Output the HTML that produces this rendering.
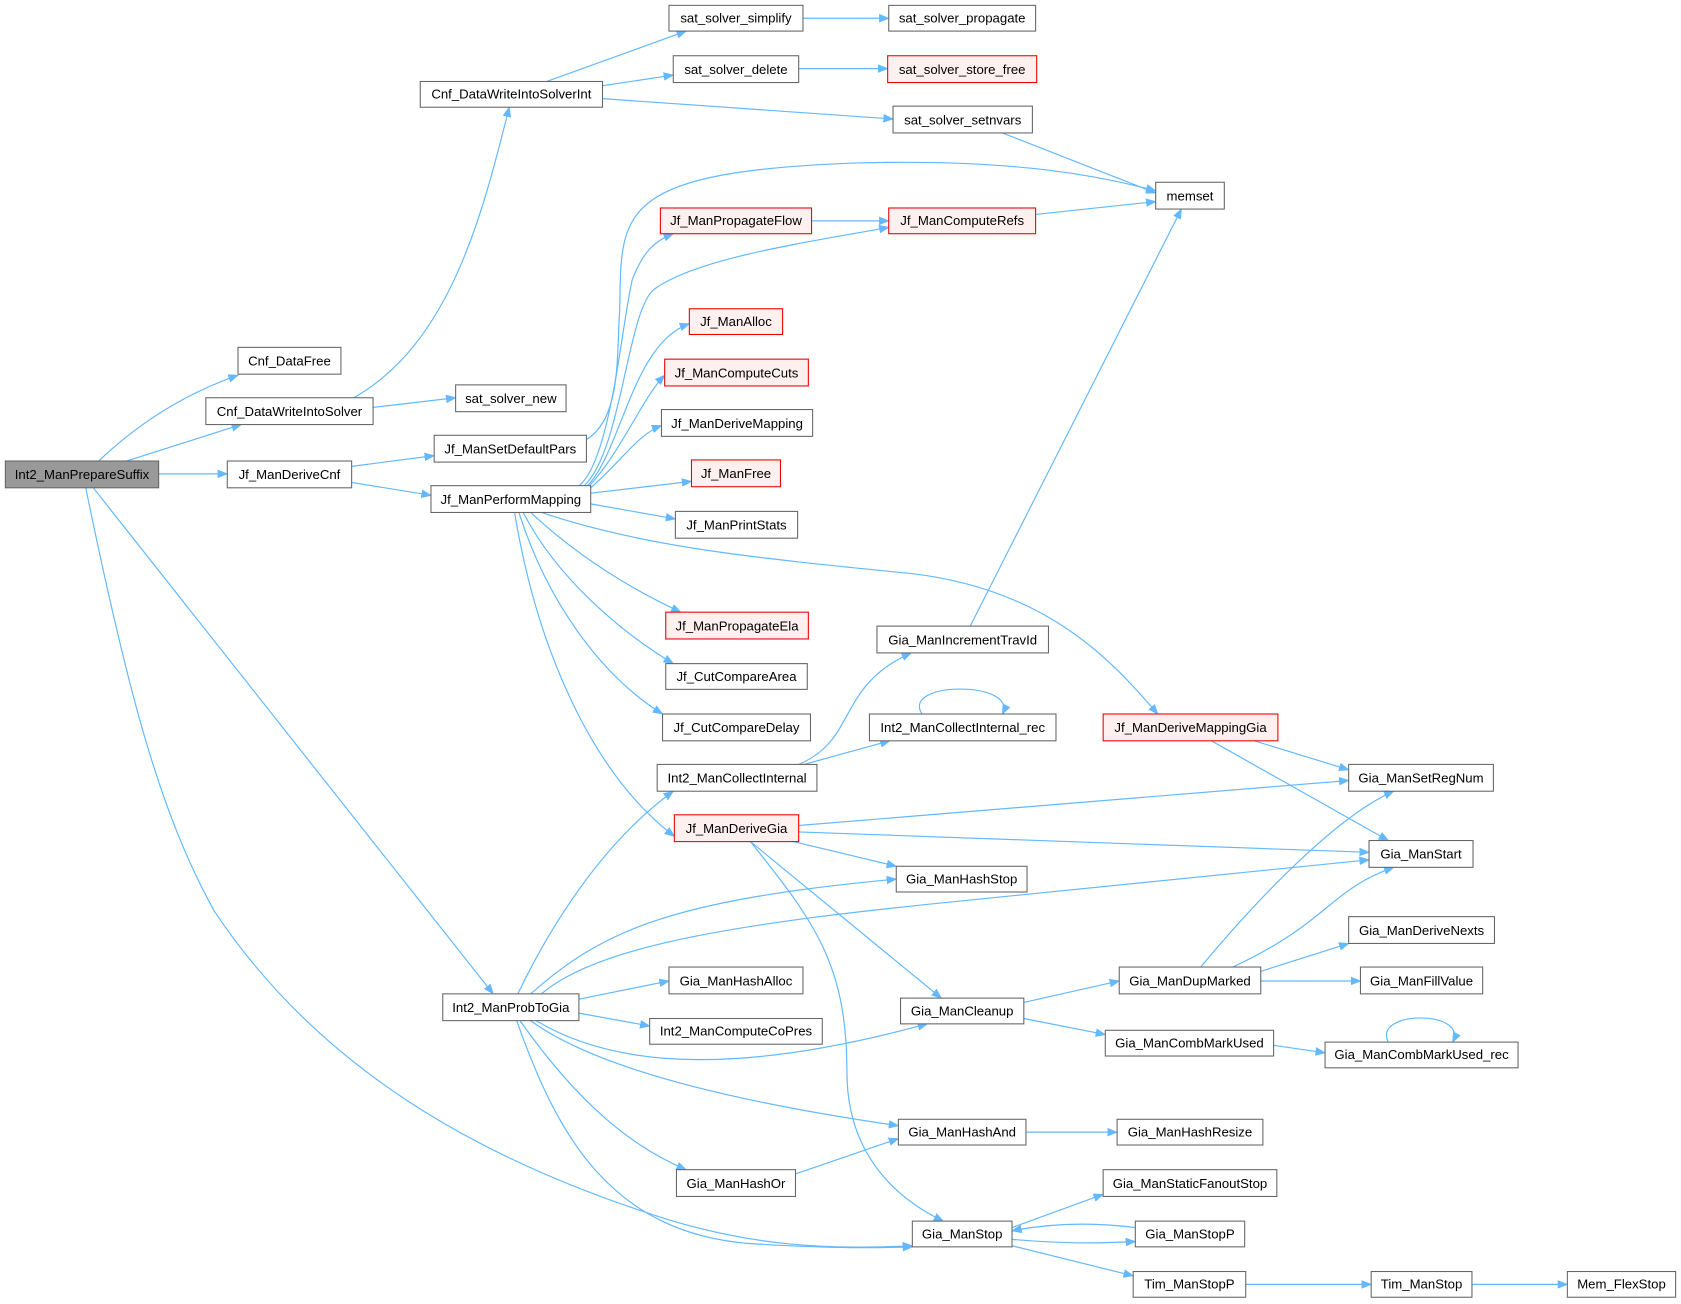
<!DOCTYPE html>
<html><head><meta charset="utf-8"><style>
html,body{margin:0;padding:0;background:#fff;}
svg{display:block;}
text{font-family:"Liberation Sans",Arial,sans-serif;font-size:12.3px;fill:#000;}
.n{fill:#fff;stroke:#666;stroke-width:1;}
.r{fill:#fff0f0;stroke:#e00;stroke-width:1;}
.g{fill:#999;stroke:#666;stroke-width:1;}
path.e{fill:none;stroke:#63b8ff;stroke-width:1.1;marker-end:url(#a);}
</style></head><body>
<svg width="1681" height="1304" viewBox="0 0 1568 1216.3" preserveAspectRatio="none" xmlns="http://www.w3.org/2000/svg">
<defs><marker id="a" markerWidth="10" markerHeight="8" refX="9" refY="4" orient="auto" markerUnits="userSpaceOnUse"><path d="M0,0 L10,4 L0,8 z" fill="#63b8ff"/></marker></defs>
<g>
<path class="e" d="M92,430 Q150,375 222,350"/>
<path class="e" d="M118,430 L225,396"/>
<path class="e" d="M148,442 L212,442"/>
<path class="e" d="M87,455 L460,927"/>
<path class="e" d="M80,455 C120,650 150,760 200,850 C300,1000 450,1080 600,1130 C700,1165 780,1165 851,1162"/>
<path class="e" d="M330,371 C420,320 450,200 475,100"/>
<path class="e" d="M348,380 L425,371"/>
<path class="e" d="M328,435 L405,425"/>
<path class="e" d="M328,450 L402,462"/>
<path class="e" d="M510,76 L640,29"/>
<path class="e" d="M562,80 L628,70"/>
<path class="e" d="M562,92 L833,111"/>
<path class="e" d="M749,17 L829,17"/>
<path class="e" d="M745,64 L828,64"/>
<path class="e" d="M935,124 L1078,180"/>
<path class="e" d="M966,200 L1078,188"/>
<path class="e" d="M757,206 L829,206"/>
<path class="e" d="M547,410 C580,390 575,330 578,290 C580,200 570,160 800,152 C950,148 1030,165 1078,178"/>
<path class="e" d="M540,453 C570,430 580,300 590,260 C600,235 610,225 628,218"/>
<path class="e" d="M545,453 C580,420 585,290 610,270 C650,240 760,225 829,212"/>
<path class="e" d="M548,453 C580,420 590,320 643,302"/>
<path class="e" d="M550,453 C580,420 600,370 620,350"/>
<path class="e" d="M551,455 C580,430 595,405 617,397"/>
<path class="e" d="M551,460 L645,449"/>
<path class="e" d="M551,470 L630,484"/>
<path class="e" d="M505,478 C600,510 700,520 850,535 C980,550 1040,620 1080,666"/>
<path class="e" d="M495,478 C540,520 590,550 635,571"/>
<path class="e" d="M488,478 C520,540 580,590 628,619"/>
<path class="e" d="M484,478 C510,560 560,630 618,666"/>
<path class="e" d="M480,478 C500,600 550,720 629,780"/>
<path class="e" d="M905,584 L1102,195"/>
<path class="e" d="M745,713 C800,690 780,640 850,609"/>
<path class="e" d="M750,713 L830,691"/>
<path class="e" d="M860,666 C840,635 950,635 935,666"/>
<path class="e" d="M1170,691 L1258,718"/>
<path class="e" d="M1130,691 L1295,784"/>
<path class="e" d="M745,770 L1258,728"/>
<path class="e" d="M745,776 L1277,795"/>
<path class="e" d="M740,785 L836,808"/>
<path class="e" d="M700,785 L878,931"/>
<path class="e" d="M700,785 C760,860 790,900 790,1000 C790,1080 840,1120 880,1139"/>
<path class="e" d="M483,927 C520,850 570,780 628,738"/>
<path class="e" d="M495,927 C560,870 620,840 836,820"/>
<path class="e" d="M505,927 C560,880 700,860 900,840 C1100,820 1200,810 1277,802"/>
<path class="e" d="M540,932 L624,915"/>
<path class="e" d="M540,945 L606,957"/>
<path class="e" d="M500,952 C580,1000 700,1000 865,955"/>
<path class="e" d="M495,952 C560,1000 700,1030 838,1050"/>
<path class="e" d="M485,952 C540,1030 590,1070 640,1091"/>
<path class="e" d="M482,952 C520,1060 570,1150 700,1160 C780,1165 820,1164 851,1163"/>
<path class="e" d="M742,1095 L838,1062"/>
<path class="e" d="M957,1056 L1042,1056"/>
<path class="e" d="M955,935 L1044,915"/>
<path class="e" d="M955,950 L1031,965"/>
<path class="e" d="M1188,975 L1236,982"/>
<path class="e" d="M1295,972 C1280,942 1370,942 1355,972"/>
<path class="e" d="M1120,902 C1180,830 1250,760 1300,738"/>
<path class="e" d="M1150,902 C1240,860 1240,830 1300,809"/>
<path class="e" d="M1176,906 L1258,880"/>
<path class="e" d="M1176,915 L1269,915"/>
<path class="e" d="M944,1145 L1029,1114"/>
<path class="e" d="M944,1156 C990,1160 1020,1160 1059,1158"/>
<path class="e" d="M1059,1145 C1020,1140 980,1141 944,1148"/>
<path class="e" d="M944,1162 L1057,1190"/>
<path class="e" d="M1162,1198 L1279,1198"/>
<path class="e" d="M1373,1198 L1462,1198"/>
</g>
<g text-anchor="middle">
<rect class="g" x="5" y="430" width="143" height="25"/><text x="76.5" y="447">Int2_ManPrepareSuffix</text>
<rect class="n" x="222" y="324" width="96" height="25"/><text x="270" y="341">Cnf_DataFree</text>
<rect class="n" x="192" y="371" width="156" height="25"/><text x="270" y="388">Cnf_DataWriteIntoSolver</text>
<rect class="n" x="212" y="430" width="116" height="25"/><text x="270" y="447">Jf_ManDeriveCnf</text>
<rect class="n" x="413" y="927" width="127" height="25"/><text x="476.5" y="944">Int2_ManProbToGia</text>
<rect class="n" x="392" y="76" width="170" height="24"/><text x="477" y="92">Cnf_DataWriteIntoSolverInt</text>
<rect class="n" x="425" y="359" width="103" height="25"/><text x="476.5" y="376">sat_solver_new</text>
<rect class="n" x="405" y="406" width="142" height="25"/><text x="476" y="423">Jf_ManSetDefaultPars</text>
<rect class="n" x="402" y="453" width="149" height="25"/><text x="476.5" y="470">Jf_ManPerformMapping</text>
<rect class="n" x="624" y="5" width="125" height="24"/><text x="686.5" y="21">sat_solver_simplify</text>
<rect class="n" x="628" y="52" width="117" height="25"/><text x="686.5" y="69">sat_solver_delete</text>
<rect class="n" x="833" y="99" width="130" height="25"/><text x="898" y="116">sat_solver_setnvars</text>
<rect class="n" x="829" y="5" width="137" height="24"/><text x="897.5" y="21">sat_solver_propagate</text>
<rect class="r" x="828" y="52" width="139" height="25"/><text x="897.5" y="69">sat_solver_store_free</text>
<rect class="n" x="1078" y="170" width="64" height="25"/><text x="1110" y="187">memset</text>
<rect class="r" x="616" y="194" width="141" height="24"/><text x="686.5" y="210">Jf_ManPropagateFlow</text>
<rect class="r" x="829" y="194" width="137" height="24"/><text x="897.5" y="210">Jf_ManComputeRefs</text>
<rect class="r" x="643" y="288" width="87" height="24"/><text x="686.5" y="304">Jf_ManAlloc</text>
<rect class="r" x="620" y="335" width="134" height="25"/><text x="687" y="352">Jf_ManComputeCuts</text>
<rect class="n" x="617" y="382" width="141" height="25"/><text x="687.5" y="399">Jf_ManDeriveMapping</text>
<rect class="r" x="645" y="429" width="83" height="25"/><text x="686.5" y="446">Jf_ManFree</text>
<rect class="n" x="630" y="477" width="114" height="25"/><text x="687" y="494">Jf_ManPrintStats</text>
<rect class="r" x="621" y="571" width="133" height="25"/><text x="687.5" y="588">Jf_ManPropagateEla</text>
<rect class="n" x="621" y="619" width="132" height="24"/><text x="687" y="635">Jf_CutCompareArea</text>
<rect class="n" x="618" y="666" width="138" height="25"/><text x="687" y="683">Jf_CutCompareDelay</text>
<rect class="n" x="613" y="713" width="149" height="25"/><text x="687.5" y="730">Int2_ManCollectInternal</text>
<rect class="r" x="629" y="760" width="116" height="25"/><text x="687" y="777">Jf_ManDeriveGia</text>
<rect class="n" x="818" y="584" width="160" height="25"/><text x="898" y="601">Gia_ManIncrementTravId</text>
<rect class="n" x="811" y="666" width="174" height="25"/><text x="898" y="683">Int2_ManCollectInternal_rec</text>
<rect class="r" x="1029" y="666" width="163" height="25"/><text x="1110.5" y="683">Jf_ManDeriveMappingGia</text>
<rect class="n" x="1258" y="713" width="135" height="25"/><text x="1325.5" y="730">Gia_ManSetRegNum</text>
<rect class="n" x="1277" y="784" width="97" height="25"/><text x="1325.5" y="801">Gia_ManStart</text>
<rect class="n" x="836" y="808" width="122" height="24"/><text x="897" y="824">Gia_ManHashStop</text>
<rect class="n" x="1258" y="855" width="136" height="25"/><text x="1326" y="872">Gia_ManDeriveNexts</text>
<rect class="n" x="624" y="902" width="125" height="25"/><text x="686.5" y="919">Gia_ManHashAlloc</text>
<rect class="n" x="1044" y="902" width="132" height="25"/><text x="1110" y="919">Gia_ManDupMarked</text>
<rect class="n" x="1269" y="902" width="114" height="25"/><text x="1326" y="919">Gia_ManFillValue</text>
<rect class="n" x="606" y="950" width="161" height="24"/><text x="686.5" y="966">Int2_ManComputeCoPres</text>
<rect class="n" x="840" y="931" width="115" height="24"/><text x="897.5" y="947">Gia_ManCleanup</text>
<rect class="n" x="1031" y="961" width="157" height="24"/><text x="1109.5" y="977">Gia_ManCombMarkUsed</text>
<rect class="n" x="1236" y="972" width="180" height="24"/><text x="1326" y="988">Gia_ManCombMarkUsed_rec</text>
<rect class="n" x="838" y="1044" width="119" height="24"/><text x="897.5" y="1060">Gia_ManHashAnd</text>
<rect class="n" x="1042" y="1044" width="136" height="24"/><text x="1110" y="1060">Gia_ManHashResize</text>
<rect class="n" x="631" y="1091" width="111" height="25"/><text x="686.5" y="1108">Gia_ManHashOr</text>
<rect class="n" x="1029" y="1091" width="162" height="25"/><text x="1110" y="1108">Gia_ManStaticFanoutStop</text>
<rect class="n" x="851" y="1139" width="93" height="24"/><text x="897.5" y="1155">Gia_ManStop</text>
<rect class="n" x="1059" y="1139" width="102" height="24"/><text x="1110" y="1155">Gia_ManStopP</text>
<rect class="n" x="1057" y="1186" width="105" height="24"/><text x="1109.5" y="1202">Tim_ManStopP</text>
<rect class="n" x="1279" y="1186" width="94" height="24"/><text x="1326" y="1202">Tim_ManStop</text>
<rect class="n" x="1462" y="1186" width="101" height="24"/><text x="1512.5" y="1202">Mem_FlexStop</text>
</g>
</svg>
</body></html>
